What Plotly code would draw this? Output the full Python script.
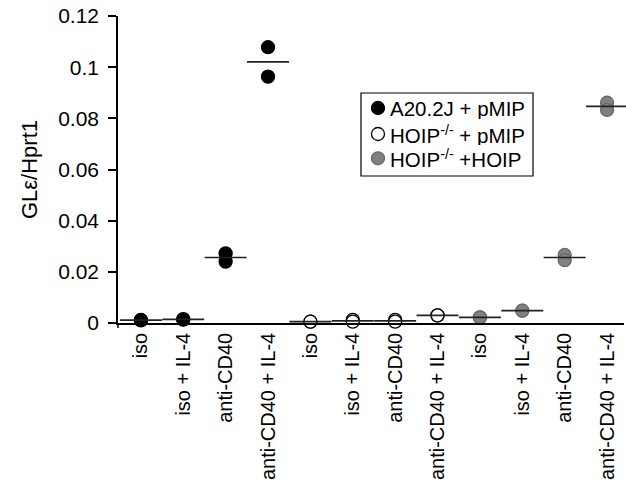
import plotly.graph_objects as go

tick_labels = ["iso", "iso + IL-4", "anti-CD40", "anti-CD40 + IL-4"] * 3
x_a20 = [0, 1, 2, 3]
x_hoip = [4, 5, 6, 7]
x_rescue = [8, 9, 10, 11]

a20_rep1 = [0.0012, 0.0015, 0.0272, 0.1078]
a20_rep2 = [0.0010, 0.0013, 0.0240, 0.0963]
hoip_rep1 = [0.0005, 0.0012, 0.0012, 0.0030]
hoip_rep2 = [0.0005, 0.0005, 0.0005, 0.0030]
rescue_rep1 = [0.0022, 0.0048, 0.0266, 0.0861]
rescue_rep2 = [0.0022, 0.0048, 0.0246, 0.0833]

series = [
    ("A20.2J + pMIP", x_a20, a20_rep1, a20_rep2, "#000000", "#000000"),
    ("HOIP<sup>-/-</sup> + pMIP", x_hoip, hoip_rep1, hoip_rep2, "#ffffff", "#000000"),
    ("HOIP<sup>-/-</sup> +HOIP", x_rescue, rescue_rep1, rescue_rep2, "#808080", "#6a6a6a"),
]

FONT = "Arial, Liberation Sans, sans-serif"
fig = go.Figure()

for name, xs, r1, r2, fill, edge in series:
    fig.add_trace(go.Scatter(
        x=xs + xs, y=r1 + r2, mode="markers", name=name, showlegend=False,
        marker=dict(size=13, color=fill, line=dict(color=edge, width=1.3)),
        cliponaxis=False,
    ))

for name, xs, r1, r2, fill, edge in series:
    means = [(a + b) / 2 for a, b in zip(r1, r2)]
    fig.add_trace(go.Scatter(
        x=xs, y=means, mode="markers", showlegend=False,
        marker=dict(symbol="line-ew", size=30, line=dict(color="#222222", width=1.7)),
        cliponaxis=False,
    ))

# manual legend (box, symbols, texts) in paper coordinates
shapes = [
    dict(type="line", xref="paper", yref="paper", x0=0, x1=0,
         y0=0, y1=-0.016, line=dict(color="#000000", width=1.5)),
    dict(type="rect", xref="paper", yref="paper", x0=0.4802, x1=0.8202,
         y0=0.4788, y1=0.7492, line=dict(color="#000000", width=1.2),
         fillcolor="white", layer="below"),
]
annotations = []
leg_y = [0.7003, 0.6156, 0.5365]
for (name, xs, r1, r2, fill, edge), ly in zip(series, leg_y):
    shapes.append(dict(
        type="circle", xref="paper", yref="paper",
        xsizemode="pixel", ysizemode="pixel",
        xanchor=0.5138, yanchor=ly, x0=-6.5, x1=6.5, y0=-6.5, y1=6.5,
        fillcolor=fill, line=dict(color=edge, width=1.3), layer="above",
    ))
    annotations.append(dict(
        xref="paper", yref="paper", x=0.5336, y=ly,
        xanchor="left", yanchor="middle", text=name, showarrow=False,
        height=21, valign="middle",
        font=dict(family=FONT, size=20.5, color="#000000"),
    ))

fig.update_layout(
    width=626, height=486,
    margin=dict(l=118, r=2, t=16, b=163),
    plot_bgcolor="white", paper_bgcolor="white",
    font=dict(family=FONT, size=20, color="#000000"),
    showlegend=False,
    shapes=shapes,
    annotations=annotations,
)
fig.update_xaxes(
    range=[-0.54, 11.4], tickmode="array",
    tickvals=list(range(12)), ticktext=tick_labels, tickangle=-90,
    showline=True, linecolor="#000000", linewidth=1.5,
    ticks="", showgrid=False, zeroline=False,
    tickfont=dict(family=FONT, size=20),
)
fig.update_yaxes(
    range=[0, 0.12], tickvals=[0, 0.02, 0.04, 0.06, 0.08, 0.1, 0.12],
    ticktext=["0", "0.02", "0.04", "0.06", "0.08", "0.1", "0.12"],
    showline=True, linecolor="#000000", linewidth=1.5,
    ticks="outside", ticklen=8, tickwidth=1.5, tickcolor="#000000",
    ticklabelstandoff=5,
    showgrid=False, zeroline=False,
    tickfont=dict(family=FONT, size=21),
    title=dict(text="GLε/Hprt1", font=dict(family=FONT, size=22), standoff=14),
)

fig.write_html("out.html", config={"displayModeBar": False},
               post_script="document.body.style.margin='0px';")
